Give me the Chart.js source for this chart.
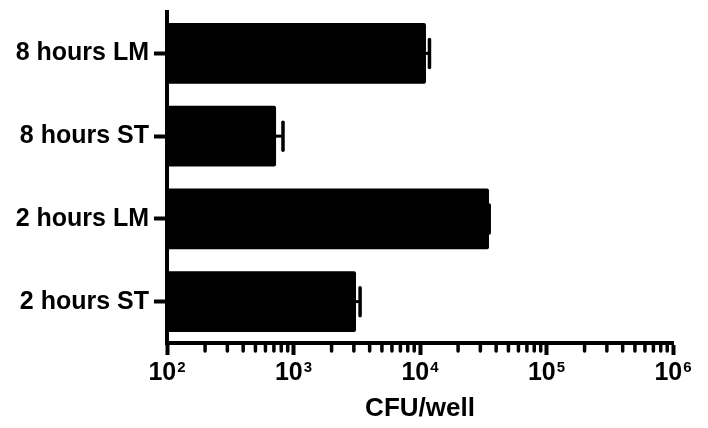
<!DOCTYPE html>
<html>
<head>
<meta charset="utf-8">
<script src="https://cdn.jsdelivr.net/npm/chart.js@4/dist/chart.umd.min.js"></script>
<style>
  html, body { margin: 0; padding: 0; background: #fff; }
  #wrap { width: 708px; height: 428px; }
</style>
</head>
<body>
<div id="wrap"><canvas id="c" width="708" height="428"></canvas></div>
<script>
// Bacterial counts per well (mean and upper error)
const categories = ['8 hours LM', '8 hours ST', '2 hours LM', '2 hours ST'];
const cfuMean = [11150, 728, 35100, 3120];
const cfuError = [730, 98, 150, 240];

// Log axis: decade exponents and the minor-tick multipliers between them
const decadeExponents = [2, 3, 4, 5, 6];
const minorMultipliers = [2, 3, 4, 5, 6, 7, 8, 9];
const axisTitle = 'CFU/well';

const FONT = '"Liberation Sans", Arial, Helvetica, sans-serif';

// Minor ticks on the log axis
const minorTicks = {
  id: 'minorTicks',
  afterDraw(chart) {
    const xs = chart.scales.x;
    const ctx = chart.ctx;
    const y0 = chart.chartArea.bottom + 2;
    ctx.save();
    ctx.strokeStyle = '#000';
    ctx.lineWidth = 3.5;
    ctx.lineCap = 'round';
    for (let i = 0; i < decadeExponents.length - 1; i++) {
      const base = Math.pow(10, decadeExponents[i]);
      for (const m of minorMultipliers) {
        const x = xs.getPixelForValue(m * base);
        ctx.beginPath();
        ctx.moveTo(x, y0);
        ctx.lineTo(x, y0 + 6);
        ctx.stroke();
      }
    }
    ctx.restore();
  }
};

// Power-of-ten labels with superscript exponents
const powerLabels = {
  id: 'powerLabels',
  afterDraw(chart) {
    const xs = chart.scales.x;
    const ctx = chart.ctx;
    const baseY = chart.chartArea.bottom + 37;
    ctx.save();
    ctx.fillStyle = '#000';
    ctx.textBaseline = 'alphabetic';
    ctx.textAlign = 'left';
    for (const e of decadeExponents) {
      const x = xs.getPixelForValue(Math.pow(10, e));
      ctx.font = 'bold 25px ' + FONT;
      const wBase = ctx.measureText('10').width;
      ctx.font = 'bold 15px ' + FONT;
      const wExp = ctx.measureText(String(e)).width;
      const start = x - (wBase + 1 + wExp) / 2;
      ctx.font = 'bold 25px ' + FONT;
      ctx.fillText('10', start, baseY);
      ctx.font = 'bold 15px ' + FONT;
      ctx.fillText(String(e), start + wBase + 1, baseY - 8);
    }
    ctx.restore();
  }
};

// Upper error bars with a vertical cap
const errorBars = {
  id: 'errorBars',
  afterDatasetsDraw(chart) {
    const xs = chart.scales.x;
    const ctx = chart.ctx;
    const meta = chart.getDatasetMeta(0);
    ctx.save();
    ctx.strokeStyle = '#000';
    meta.data.forEach((bar, i) => {
      const y = bar.y;
      const x0 = xs.getPixelForValue(cfuMean[i]);
      const x1 = xs.getPixelForValue(cfuMean[i] + cfuError[i]);
      ctx.lineWidth = 3;
      ctx.lineCap = 'butt';
      ctx.beginPath();
      ctx.moveTo(x0 - 2, y);
      ctx.lineTo(x1, y);
      ctx.stroke();
      ctx.lineWidth = 3.5;
      ctx.lineCap = 'round';
      ctx.beginPath();
      ctx.moveTo(x1, y - 14);
      ctx.lineTo(x1, y + 14);
      ctx.stroke();
    });
    ctx.restore();
  }
};

new Chart(document.getElementById('c'), {
  type: 'bar',
  data: {
    labels: categories,
    datasets: [{
      data: cfuMean,
      backgroundColor: '#000',
      borderWidth: 0,
      borderRadius: 2,
      barPercentage: 0.735,
      categoryPercentage: 1
    }]
  },
  options: {
    indexAxis: 'y',
    responsive: false,
    animation: false,
    devicePixelRatio: 1,
    layout: { padding: { top: 12, right: 35, bottom: 0, left: 0 } },
    plugins: { legend: { display: false }, tooltip: { enabled: false } },
    scales: {
      x: {
        type: 'logarithmic',
        position: 'bottom',
        min: 100,
        max: 1000000,
        border: { display: true, width: 4, color: '#000' },
        grid: { drawOnChartArea: false, drawTicks: true, tickLength: 12, tickWidth: 4, tickColor: '#000' },
        ticks: { autoSkip: false, callback: () => '', padding: 0 },
        afterBuildTicks: (scale) => {
          scale.ticks = decadeExponents.map(e => ({ value: Math.pow(10, e), major: true }));
        },
        afterFit: (scale) => {
          scale.height = 85;
          scale.paddingLeft = 0;
          scale.paddingRight = 0;
        },
        title: {
          display: true,
          text: axisTitle,
          color: '#000',
          font: { family: FONT, size: 26, weight: 'bold' },
          padding: { top: 0, bottom: 4 }
        }
      },
      y: {
        type: 'category',
        position: 'left',
        offset: true,
        border: { display: true, width: 4, color: '#000' },
        grid: { offset: false, drawOnChartArea: false, drawTicks: true, tickLength: 13, tickWidth: 4, tickColor: '#000' },
        ticks: {
          color: '#000',
          padding: 5,
          font: { family: FONT, size: 25, weight: 'bold' }
        },
        afterFit: (scale) => {
          scale.width = 167;
          scale.paddingTop = 0;
          scale.paddingBottom = 0;
        }
      }
    }
  },
  plugins: [minorTicks, powerLabels, errorBars]
});
</script>
</body>
</html>
